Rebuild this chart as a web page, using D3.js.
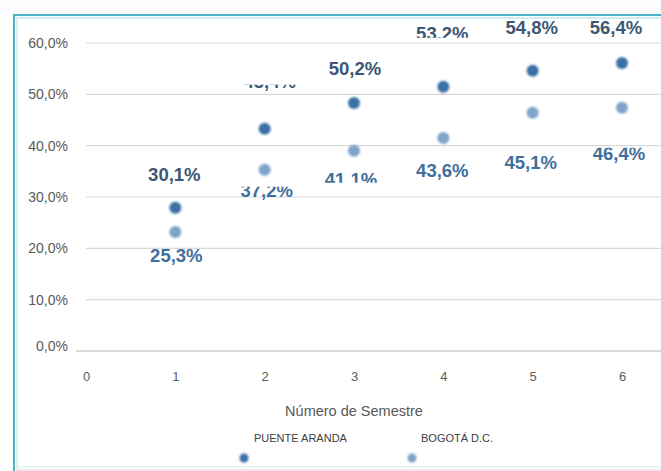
<!DOCTYPE html>
<html>
<head>
<meta charset="utf-8">
<script src="https://cdn.jsdelivr.net/npm/d3@7/dist/d3.min.js"></script>
<style>
html,body{margin:0;padding:0;background:#fff;}
svg{display:block;}
</style>
</head>
<body>
<svg id="chart" width="661" height="471"></svg>
<script>
// ---------- data ----------
const semestres = [1, 2, 3, 4, 5, 6];
const xTicks = [0, 1, 2, 3, 4, 5, 6];
const yTicks = [0, 10, 20, 30, 40, 50, 60];
const seriesNames = ["PUENTE ARANDA", "BOGOTÁ D.C."];
const puenteAranda = [27.9, 43.3, 48.3, 51.5, 54.6, 56.1];
const bogota = [23.2, 35.3, 39.0, 41.5, 46.4, 47.4];
const puenteArandaLabels = ["30,1%", "43,4%", "50,2%", "53,2%", "54,8%", "56,4%"];
const bogotaLabels = ["25,3%", "37,2%", "41,1%", "43,6%", "45,1%", "46,4%"];
const xTitle = "Número de Semestre";

// ---------- layout (label placement relative to points) ----------
const paLabelOffset = [[-1, -33], [5, -47], [1, -35], [-1, -53], [-1, -43], [-6, -35]];
const paLabelClip = [null, {top: 3}, null, {bottom: 4}, null, null];
const boLabelOffset = [[1, 24], [2, 21], [-3, 29], [-1, 33], [-2, 50], [-3, 46]];
const boLabelClip = [null, {top: -4}, {bottom: 3}, null, null, {top: -6}];

const svg = d3.select("#chart");
const fontAxis = "'Liberation Sans Narrow', 'Arial Narrow', 'Liberation Sans', sans-serif";

const x = d3.scaleLinear().domain([0, 6]).range([86, 622]);
const y = d3.scaleLinear().domain([0, 60]).range([351, 43]);

const defs = svg.append("defs");
const blur = defs.append("filter").attr("id", "soft").attr("x", "-50%").attr("y", "-50%").attr("width", "200%").attr("height", "200%");
blur.append("feGaussianBlur").attr("stdDeviation", 1.2);

// frame
svg.append("rect").attr("x", 0).attr("y", 0).attr("width", 661).attr("height", 14).attr("fill", "#fbfcfd");
svg.append("line").attr("x1", 13).attr("x2", 661).attr("y1", 15).attr("y2", 15).attr("stroke", "#4ab3c4").attr("stroke-width", 2);
svg.append("line").attr("x1", 15).attr("x2", 661).attr("y1", 18).attr("y2", 18).attr("stroke", "#cdeef3").attr("stroke-width", 2);
svg.append("line").attr("x1", 14).attr("x2", 14).attr("y1", 14).attr("y2", 471).attr("stroke", "#4ab3c4").attr("stroke-width", 2);
svg.append("line").attr("x1", 17).attr("x2", 17).attr("y1", 17).attr("y2", 471).attr("stroke", "#d7f1f4").attr("stroke-width", 2);
svg.append("line").attr("x1", 16).attr("x2", 661).attr("y1", 467).attr("y2", 467).attr("stroke", "#e3f3e0").attr("stroke-width", 1.5);
svg.append("line").attr("x1", 16).attr("x2", 661).attr("y1", 470).attr("y2", 470).attr("stroke", "#f6e4f0").attr("stroke-width", 2);

// gridlines
const gridG = svg.append("g");
gridG.selectAll("line").data(yTicks).join("line")
  .attr("x1", d => d === 0 ? 76 : 86).attr("x2", 661)
  .attr("y1", d => y(d)).attr("y2", d => y(d))
  .attr("stroke", d => d === 0 ? "#cfcfcf" : "#d9d9d9").attr("stroke-width", d => d === 0 ? 1.5 : 1.2);

// y axis labels
const yAxis = d3.axisLeft(y).tickValues(yTicks).tickSize(0).tickPadding(0)
  .tickFormat(d => d3.format(".1f")(d).replace(".", ",") + "%");
const yg = svg.append("g").attr("transform", "translate(68,0)").call(yAxis);
yg.select(".domain").remove();
yg.selectAll("text").attr("font-family", fontAxis).attr("font-size", 14).attr("fill", "#5a5a5a")
  .attr("dy", (d) => d === 0 ? "-0.05em" : "0.32em");

// x axis labels
const xAxis = d3.axisBottom(x).tickValues(xTicks).tickSize(0).tickPadding(0).tickFormat(d3.format("d"));
const xg = svg.append("g").attr("transform", "translate(0,372)").call(xAxis);
xg.select(".domain").remove();
xg.selectAll("text").attr("font-family", fontAxis).attr("font-size", 13).attr("fill", "#5a5a5a");

// x title
svg.append("text").attr("x", x(3)).attr("y", 416).attr("text-anchor", "middle")
  .attr("font-family", fontAxis).attr("font-size", 14.5).attr("fill", "#595959").text(xTitle);

// points
const colors = ["#3b70a6", "#7fa3cb"];
const labelColors = ["#3d5775", "#3f6f9c"];
const allSeries = [
  {vals: puenteAranda, labels: puenteArandaLabels, off: paLabelOffset, clip: paLabelClip},
  {vals: bogota, labels: bogotaLabels, off: boLabelOffset, clip: boLabelClip}
];

allSeries.forEach((s, si) => {
  svg.append("g").selectAll("circle").data(semestres).join("circle")
    .attr("cx", (d) => x(d)).attr("cy", (d, i) => y(s.vals[i])).attr("r", 6)
    .attr("fill", colors[si]).attr("filter", "url(#soft)");
});

allSeries.forEach((s, si) => {
  const g = svg.append("g");
  semestres.forEach((d, i) => {
    const cx = x(d) + s.off[i][0];
    const cy = y(s.vals[i]) + s.off[i][1];
    const c = s.clip[i];
    let target = g;
    if (c) {
      const id = "clip" + si + "_" + i;
      const top = c.top !== undefined ? cy + c.top : cy - 40;
      const bottom = c.bottom !== undefined ? cy + c.bottom : cy + 40;
      defs.append("clipPath").attr("id", id).append("rect")
        .attr("x", cx - 50).attr("width", 100).attr("y", top).attr("height", bottom - top);
      target = g.append("g").attr("clip-path", "url(#" + id + ")");
    }
    target.append("text").attr("x", cx).attr("y", cy).attr("dy", "0.35em")
      .attr("text-anchor", "middle").attr("font-family", fontAxis)
      .attr("font-size", 18.5).attr("font-weight", "bold").attr("fill", labelColors[si])
      .text(s.labels[i]);
  });
});

// legend
const legendPos = [[244, 254], [412, 421]];
seriesNames.forEach((n, i) => {
  svg.append("circle").attr("cx", legendPos[i][0]).attr("cy", 458).attr("r", 4.5)
    .attr("fill", colors[i]).attr("filter", "url(#soft)");
  svg.append("text").attr("x", legendPos[i][1]).attr("y", 442)
    .attr("font-family", fontAxis).attr("font-size", 11).attr("fill", "#404040").text(n);
});
</script>
</body>
</html>
